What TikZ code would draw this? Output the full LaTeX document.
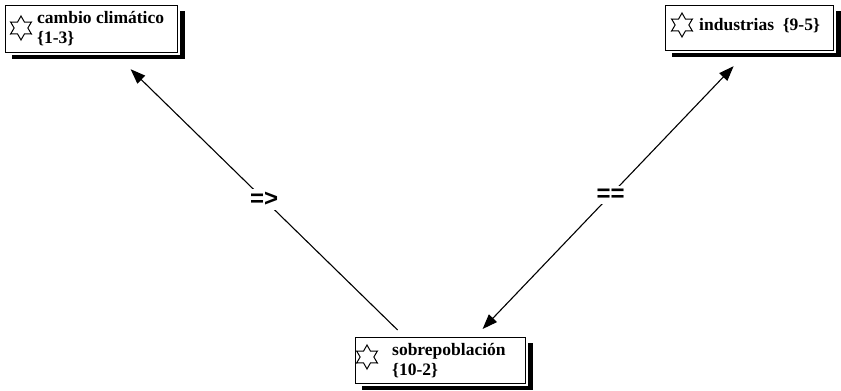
\documentclass[tikz,border=0pt]{standalone}
\usepackage{fontspec}
\setmainfont{Liberation Serif}
\newfontfamily\lblfont{Liberation Sans}
\usetikzlibrary{shapes.geometric,arrows.meta,backgrounds}
\begin{document}
\begin{tikzpicture}[x=1pt,y=-1pt,
  box/.style={draw=black, fill=white, line width=1.2pt, rectangle, inner sep=0pt,
    preaction={draw=white, line width=4.5pt}},
  boxtext/.style={anchor=west, align=left, inner sep=0pt,
    font=\fontsize{17.5}{20}\selectfont\bfseries},
  starsym/.style={star, star points=6, star point ratio=1.75, draw=black,
    line width=1pt, minimum size=24pt, inner sep=0pt},
  rel/.style={draw=black, line width=1.1pt},
  tip/.style={-{Triangle[length=15pt,width=11pt]}},
  tips/.style={{Triangle[length=15pt,width=11pt]}-{Triangle[length=15pt,width=11pt]}},
  lbl/.style={fill=white, inner sep=3pt, font=\lblfont\fontsize{24}{24}\selectfont\bfseries}
]
\useasboundingbox (0,0) rectangle (841,391);

% boxes
\node[box, minimum width=172pt, minimum height=47pt, anchor=north west] (cam) at (5,5) {};
\node[box, minimum width=168pt, minimum height=45pt, anchor=north west] (ind) at (665,5) {};
\node[box, minimum width=170pt, minimum height=46pt, anchor=north west] (sob) at (355,337) {};

% shadows
\begin{scope}[on background layer]
\foreach \b in {cam,ind,sob}
  \fill[black] ([xshift=7pt,yshift=-6pt]\b.north west) rectangle ([xshift=7pt,yshift=-6pt]\b.south east);
\end{scope}

% contents
\node[starsym] (s1) at (21,28) {};
\node[boxtext] (t1) at (37,28.5) {cambio climático\\\{1-3\}};
\node[starsym] (s2) at (682,25) {};
\node[boxtext] (t2) at (699,26) {industrias\ \ \{9-5\}};
\node[starsym] (s3) at (367,357) {};
\node[boxtext] (t3) at (392,361) {sobrepoblación\\\{10-2\}};

% connectors
\draw[rel, tip] ([xshift=-43pt,yshift=7pt]sob.north) -- node[lbl, pos=0.5] (l1) {=>} ([xshift=39pt,yshift=-16pt]cam.south);
\draw[rel, tips] ([xshift=-16pt,yshift=-15pt]ind.south) -- node[lbl, pos=0.49] (l2) {==} ([xshift=42pt,yshift=8pt]sob.north);
\end{tikzpicture}
\end{document}
